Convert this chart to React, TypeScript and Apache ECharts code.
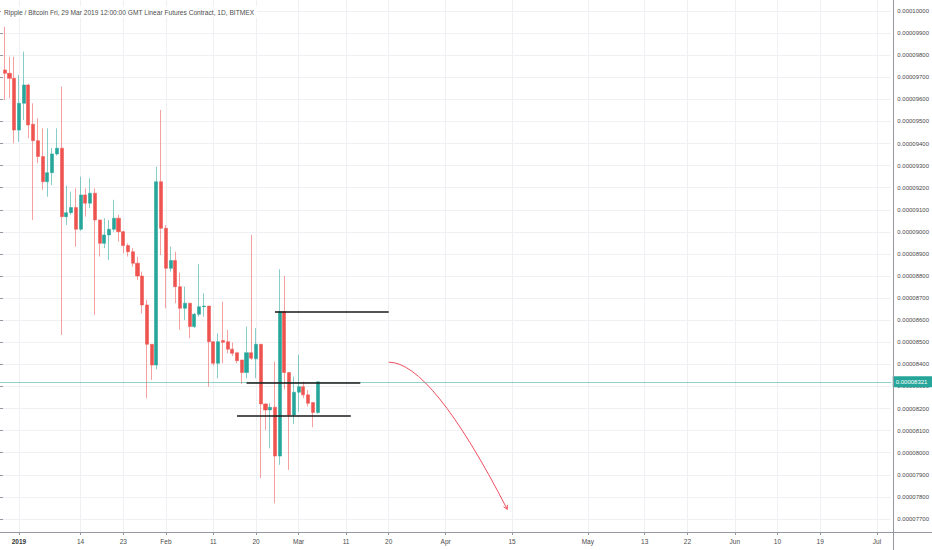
import React, { useEffect, useRef } from "react";
import * as echarts from "echarts";

// ---------- data (prices in units of 1e-8 BTC) ----------
const FIRST_DAY = "2018-12-28";
const LAST_DAY = "2019-07-04";
const CANDLE_START = "2018-12-29";

const opens = [
  9733, 9718, 9695,
  9461, 9582, 9665, 9487, 9413, 9341, 9227, 9268, 9353, 9379, 9069, 9087, 9110, 9012, 9167, 9130, 9175, 9054, 8948, 8986, 9012, 9062, 9001, 8938, 8910, 8858, 8800, 8669, 8491, 8397, 9227,
  9016, 8835, 8870, 8752, 8654, 8677, 8571, 8627, 8661, 8664, 8503, 8405, 8508, 8503, 8469, 8453, 8420, 8363, 8453, 8425, 8491, 8221, 8194, 8206, 7985, 8639, 8363, 8171,
  8274, 8299, 8262, 8227, 8182,
];
const closes = [
  9718, 9695, 9461,
  9582, 9665, 9484, 9413, 9341, 9227, 9268, 9353, 9379, 9069, 9087, 9110, 9012, 9167, 9130, 9175, 9054, 8948, 8986, 9012, 9062, 9001, 8938, 8910, 8858, 8800, 8669, 8491, 8397, 9227, 9016,
  8835, 8870, 8752, 8654, 8677, 8571, 8627, 8661, 8664, 8503, 8405, 8503, 8500, 8469, 8450, 8417, 8363, 8453, 8428, 8491, 8221, 8194, 8206, 7985, 8639, 8363, 8171, 8274,
  8299, 8262, 8224, 8182, 8321,
];
const lows = [
  9597, 9605, 9401,
  9408, 9507, 9424, 9054, 9311, 9190, 9159, 9212, 9345, 8533, 9031, 9077, 8933, 9005, 9069, 9107, 8624, 8888, 8926, 8873, 9001, 8956, 8903, 8888, 8842, 8782, 8631, 8247, 8330, 8378, 8895,
  8654, 8820, 8677, 8556, 8601, 8518, 8565, 8616, 8616, 8299, 8395, 8337, 8405, 8450, 8438, 8405, 8311, 8337, 8420, 8337, 7885, 8103, 8020, 7771, 7945, 8287, 7922, 8130,
  8186, 8247, 8209, 8115, 8176,
];
const highs = [
  9929, 9793, 9793,
  9710, 9816, 9670, 9582, 9514, 9469, 9469, 9380, 9469, 9657, 9209, 9182, 9197, 9250, 9197, 9243, 9197, 9054, 9062, 9054, 9145, 9077, 9005, 8948, 8926, 8888, 8820, 8692, 8491, 9295, 9552,
  9031, 8933, 8910, 8815, 8752, 8677, 8633, 8855, 8722, 8664, 8503, 8541, 8684, 8556, 8499, 8453, 8420, 8571, 8986, 8564, 8491, 8224, 8224, 8412, 8831, 8800, 8363, 8345,
  8443, 8322, 8284, 8227, 8322,
];

const tickDates = [
  "2019-01-01", "2019-01-14", "2019-01-23", "2019-02-01", "2019-02-11", "2019-02-20",
  "2019-03-01", "2019-03-11", "2019-03-20", "2019-04-01", "2019-04-15", "2019-05-01",
  "2019-05-13", "2019-05-22", "2019-06-01", "2019-06-10", "2019-06-19", "2019-07-01",
];
const tickLabels = [
  "2019", "14", "23", "Feb", "11", "20", "Mar", "11", "20", "Apr", "15", "May",
  "13", "22", "Jun", "10", "19", "Jul",
];

const LAST_PRICE = 8321;

// drawn horizontal levels
const levelStarts = ["2019-02-24", "2019-02-18", "2019-02-16"];
const levelEnds = ["2019-03-20", "2019-03-14", "2019-03-12"];
const levelValues = [8639, 8317, 8168];

// curved arrow: start, control, end
const arrowDates = ["2019-03-20", "2019-03-29", "2019-04-14"];
const arrowValues = [8410, 8410, 7744];

const TITLE =
  "Ripple / Bitcoin Fri, 29 Mar 2019 12:00:00 GMT Linear Futures Contract, 1D, BITMEX";

// ---------- helpers ----------
function isoDay(d: Date) {
  return d.toISOString().slice(0, 10);
}
function buildDays(a: string, b: string) {
  const out: string[] = [];
  const d = new Date(a + "T00:00:00Z");
  const end = new Date(b + "T00:00:00Z").getTime();
  while (d.getTime() <= end) {
    out.push(isoDay(d));
    d.setUTCDate(d.getUTCDate() + 1);
  }
  return out;
}
const categories = buildDays(FIRST_DAY, LAST_DAY);
const catIndex = (s: string) => categories.indexOf(s);
const candleOffset = catIndex(CANDLE_START);
const fmtPrice = (v: number) => (v / 1e8).toFixed(8);

// layout
const W = 932;
const H = 550;
const PX_PER_DAY = (877 - 18) / 181;
const GRID_LEFT = 18 - catIndex("2019-01-01") * PX_PER_DAY;
const GRID_WIDTH = (categories.length - 1) * PX_PER_DAY;
const AXIS_X = 893.5;
const AXIS_Y = 532;
const PX_PER_UNIT = (519 - 11) / 2300;
const Y_TOP_VAL = 10000 + 11 / PX_PER_UNIT;
const Y_BOT_VAL = 10000 - AXIS_Y / PX_PER_UNIT + 11 / PX_PER_UNIT;
const TITLE_WIDTH = 250;

const UP = "#26a69a";
const DOWN = "#ef5350";

function measure(text: string, font: string) {
  const c = document.createElement("canvas").getContext("2d");
  if (!c) return 0;
  c.font = font;
  return c.measureText(text).width;
}

function pickTitleFont() {
  const probe = "Ripple / Bitcoin 0123456789 BITMEX";
  const narrowW = measure(probe, '20px "Liberation Sans Narrow", monospace');
  const monoW = measure(probe, "20px monospace");
  const family =
    narrowW > 0 && Math.abs(narrowW - monoW) > 0.5
      ? '"Liberation Sans Narrow"'
      : '"Liberation Sans"';
  const w10 = measure(TITLE, "10px " + family);
  let size = w10 > 0 ? (10 * TITLE_WIDTH) / w10 : 6.6;
  size = Math.max(6, Math.min(8.5, size));
  return size.toFixed(2) + "px " + family + ", Arial, sans-serif";
}

export default function App() {
  const ref = useRef<HTMLDivElement>(null);
  useEffect(() => {
    if (!ref.current) return;
    const chart = echarts.init(ref.current, null, { renderer: "svg" });

    const candleData = opens.map((o, i) => [
      categories[candleOffset + i],
      o,
      closes[i],
      lows[i],
      highs[i],
    ]);

    const titleFont = pickTitleFont();

    const showTick = (idx: number, val: string) => tickDates.indexOf(val) >= 0;

    const option: any = {
      animation: false,
      backgroundColor: "#ffffff",
      grid: [
        { left: GRID_LEFT, top: 0, width: GRID_WIDTH, height: AXIS_Y, containLabel: false },
        { left: GRID_LEFT, top: 11, width: GRID_WIDTH, height: 508, containLabel: false },
      ],
      xAxis: [
        {
          type: "category",
          gridIndex: 0,
          data: categories,
          boundaryGap: false,
          axisLine: { show: false },
          axisTick: {
            show: true,
            interval: showTick,
            length: 3,
            lineStyle: { color: "#9598a1" },
          },
          axisLabel: {
            interval: showTick,
            margin: 6,
            fontSize: 6.5,
            color: "#4a4a4a",
            fontFamily: "Liberation Sans, Arial, sans-serif",
            formatter: (val: string) => {
              const i = tickDates.indexOf(val);
              const t = i >= 0 ? tickLabels[i] : "";
              return i === 0 ? "{b|" + t + "}" : t;
            },
            rich: {
              b: {
                fontWeight: "bold",
                fontSize: 6.5,
                color: "#333",
                fontFamily: "Liberation Sans, Arial, sans-serif",
              },
            },
          },
          splitLine: {
            show: true,
            interval: showTick,
            lineStyle: { color: "#eef0f4", width: 1 },
          },
        },
        { type: "value", gridIndex: 1, show: false, min: 0, max: 1 },
      ],
      yAxis: [
        {
          type: "value",
          gridIndex: 0,
          min: Y_BOT_VAL,
          max: Y_TOP_VAL,
          show: false,
          splitLine: { show: false },
        },
        {
          type: "value",
          gridIndex: 1,
          position: "right",
          offset: AXIS_X - (GRID_LEFT + GRID_WIDTH),
          min: 7700,
          max: 10000,
          interval: 100,
          axisLine: { show: false },
          axisTick: { show: true, length: 3, lineStyle: { color: "#9598a1" } },
          axisLabel: {
            margin: 4.5,
            fontSize: 6,
            color: "#4a4a4a",
            fontFamily: "Liberation Sans, Arial, sans-serif",
            formatter: (v: number) => fmtPrice(v),
          },
          splitLine: { show: true, lineStyle: { color: "#eef0f4", width: 1 } },
        },
      ],
      series: [
        {
          type: "candlestick",
          xAxisIndex: 0,
          yAxisIndex: 0,
          data: candleData,
          encode: { x: 0, y: [1, 2, 3, 4] },
          barWidth: 3.6,
          itemStyle: {
            color: UP,
            color0: DOWN,
            borderColor: "rgba(38,166,154,0.55)",
            borderColor0: "rgba(239,83,80,0.55)",
            borderWidth: 1,
          },
          markLine: {
            silent: true,
            symbol: ["none", "none"],
            z: 10,
            data: [
              {
                yAxis: LAST_PRICE,
                lineStyle: { color: "rgba(38,166,154,0.5)", width: 1, type: "solid" },
                label: {
                  show: true,
                  position: "end",
                  distance: 1.5,
                  formatter: () => fmtPrice(LAST_PRICE),
                  color: "#ffffff",
                  fontSize: 6,
                  fontFamily: "Liberation Sans, Arial, sans-serif",
                  backgroundColor: UP,
                  padding: [2.5, 6, 2.5, 3],
                },
              },
              ...levelValues.map((v, i) => [
                {
                  coord: [levelStarts[i], v],
                  lineStyle: { color: "#1a1a1a", width: 1.6, type: "solid" },
                  label: { show: false },
                },
                { coord: [levelEnds[i], v] },
              ]),
            ],
          },
        },
        {
          type: "custom",
          xAxisIndex: 0,
          yAxisIndex: 0,
          silent: true,
          clip: false,
          data: [[catIndex(arrowDates[0]), arrowValues[0]]],
          renderItem: (params: any, api: any) => {
            const p = arrowDates.map((d, i) => api.coord([catIndex(d), arrowValues[i]]));
            const s = p[0];
            const c = p[1];
            const e = p[2];
            const dx = e[0] - c[0];
            const dy = e[1] - c[1];
            const len = Math.hypot(dx, dy) || 1;
            const ux = dx / len;
            const uy = dy / len;
            const L = 4.5;
            const a = 0.5;
            const ca = Math.cos(a);
            const sa = Math.sin(a);
            const h1 = [e[0] - L * (ux * ca - uy * sa), e[1] - L * (uy * ca + ux * sa)];
            const h2 = [e[0] - L * (ux * ca + uy * sa), e[1] - L * (uy * ca - ux * sa)];
            const stroke = "#ef4f5f";
            return {
              type: "group",
              children: [
                {
                  type: "bezierCurve",
                  shape: { x1: s[0], y1: s[1], x2: e[0], y2: e[1], cpx1: c[0], cpy1: c[1] },
                  style: { stroke, lineWidth: 1, fill: "none" },
                },
                {
                  type: "polyline",
                  shape: { points: [h1, e, h2] },
                  style: { stroke, lineWidth: 1, fill: "none" },
                },
              ],
            };
          },
        },
      ],
      graphic: [
        {
          type: "line",
          silent: true,
          z: 50,
          shape: { x1: AXIS_X, y1: 0, x2: AXIS_X, y2: H },
          style: { stroke: "#9598a1", lineWidth: 1 },
        },
        {
          type: "line",
          silent: true,
          z: 50,
          shape: { x1: 0, y1: AXIS_Y + 0.5, x2: W, y2: AXIS_Y + 0.5 },
          style: { stroke: "#9598a1", lineWidth: 1 },
        },
        {
          type: "text",
          silent: true,
          z: 60,
          x: 1,
          y: 12,
          style: {
            text: TITLE,
            font: titleFont,
            fill: "#4d4d4d",
            align: "left",
            verticalAlign: "middle",
            backgroundColor: "#ffffff",
            padding: [2, 3, 2, 3],
          },
        },
      ],
    };

    chart.setOption(option);
    return () => chart.dispose();
  }, []);

  return (
    <div
      ref={ref}
      style={{ position: "absolute", left: 0, top: 0, width: W, height: H, background: "#fff" }}
    />
  );
}
